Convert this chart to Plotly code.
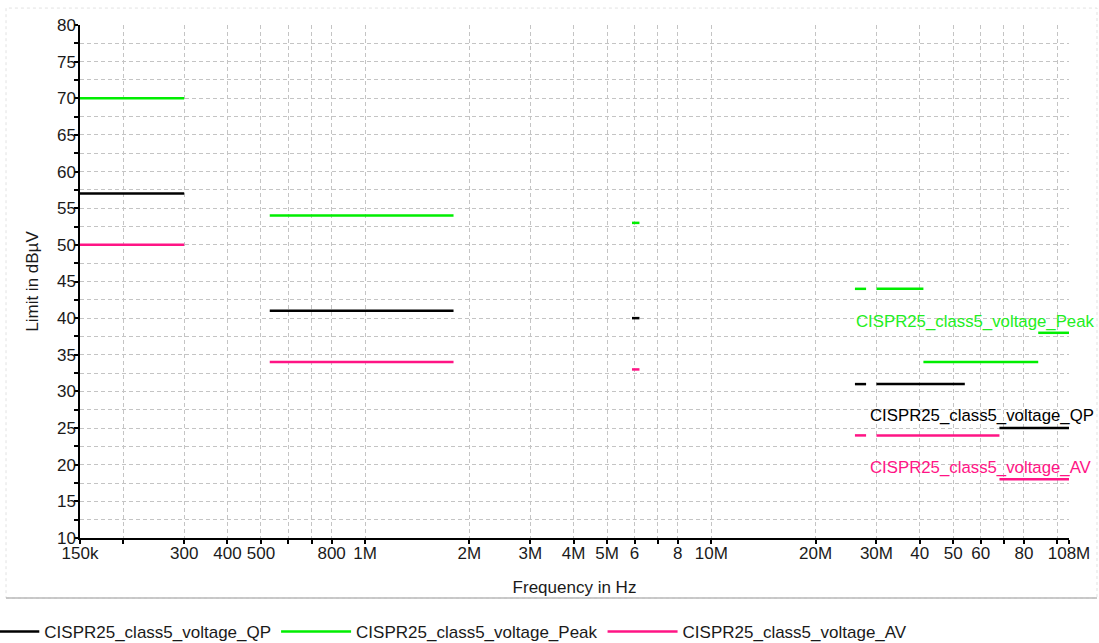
import plotly.graph_objects as go
import math

# ---- data (frequency in MHz, level in dBµV) ----
qp_start = [0.15, 0.53, 5.9, 26, 30, 68]
qp_stop = [0.30, 1.8, 6.2, 28, 54, 108]
qp_level = [57, 41, 40, 31, 31, 25]

peak_start = [0.15, 0.53, 5.9, 26, 30, 41, 88]
peak_stop = [0.30, 1.8, 6.2, 28, 41, 88, 108]
peak_level = [70, 54, 53, 44, 44, 34, 38]

av_start = [0.15, 0.53, 5.9, 26, 30, 68]
av_stop = [0.30, 1.8, 6.2, 28, 68, 108]
av_level = [50, 34, 33, 24, 24, 18]

x_tick_mhz = [0.15, 0.2, 0.3, 0.4, 0.5, 0.6, 0.7, 0.8, 1, 2, 3, 4, 5, 6, 7, 8,
              10, 20, 30, 40, 50, 60, 70, 80, 100, 108]
x_tick_text = ["150k", "", "300", "400", "500", "", "", "800", "1M", "2M", "3M", "4M",
               "5M", "6", "", "8", "10M", "20M", "30M", "40", "50", "60", "", "80", "", "108M"]

y_tick_vals = [10 + 2.5 * i for i in range(29)]
y_tick_text = [str(int(v)) if v % 5 == 0 else "" for v in y_tick_vals]

series_names = ["CISPR25_class5_voltage_QP", "CISPR25_class5_voltage_Peak", "CISPR25_class5_voltage_AV"]
series_colors = ["#000000", "#00ee00", "#ff1485"]


def seg_xy(starts, stops, levels):
    xs, ys = [], []
    for a, b, v in zip(starts, stops, levels):
        xs += [a * 1e6, b * 1e6, None]
        ys += [v, v, None]
    return xs, ys


fig = go.Figure()
for (st, sp, lv), name, col in zip(
        [(qp_start, qp_stop, qp_level), (peak_start, peak_stop, peak_level), (av_start, av_stop, av_level)],
        series_names, series_colors):
    xs, ys = seg_xy(st, sp, lv)
    fig.add_trace(go.Scatter(x=xs, y=ys, mode="lines", name=name,
                             line=dict(color=col, width=2.5), connectgaps=False))

font = "Liberation Sans, Arial, sans-serif"
txt = "#1a1a1a"
grid = dict(showgrid=True, gridcolor="#c4c4c4", griddash="4px,3px", gridwidth=1)

fig.update_xaxes(type="log", range=[math.log10(150e3), math.log10(108e6)],
                 tickmode="array", tickvals=[v * 1e6 for v in x_tick_mhz], ticktext=x_tick_text,
                 showline=True, linecolor="black", linewidth=1.5,
                 ticks="outside", ticklen=4, tickcolor="black", tickwidth=1.5,
                 ticklabelstandoff=-5,
                 tickfont=dict(size=17, color=txt, family=font),
                 title=dict(text="Frequency in Hz", font=dict(size=17, color=txt, family=font), standoff=19),
                 zeroline=False, automargin=False, **grid)
fig.update_yaxes(range=[10, 80], tickmode="array", tickvals=y_tick_vals, ticktext=y_tick_text,
                 showline=True, linecolor="black", linewidth=1.5,
                 ticks="outside", ticklen=4, tickcolor="black", tickwidth=1.5,
                 ticklabelstandoff=-5,
                 tickfont=dict(size=17, color=txt, family=font),
                 title=dict(text="Limit in dBµV", font=dict(size=17, color=txt, family=font), standoff=14),
                 zeroline=False, automargin=False, **grid)

# inline labels
ann_size = 16.8
fig.add_annotation(x=0.7826, xref="paper", y=39.5, yref="y", text="CISPR25_class5_voltage_Peak",
                   showarrow=False, xanchor="left", yanchor="middle",
                   font=dict(size=ann_size, color="#22ee22", family=font))
fig.add_annotation(x=0.7967, xref="paper", y=26.7, yref="y", text="CISPR25_class5_voltage_QP",
                   showarrow=False, xanchor="left", yanchor="middle",
                   font=dict(size=ann_size, color="#000000", family=font))
fig.add_annotation(x=0.7967, xref="paper", y=19.6, yref="y", text="CISPR25_class5_voltage_AV",
                   showarrow=False, xanchor="left", yanchor="middle",
                   font=dict(size=ann_size, color="#ff1485", family=font))

# outer panel frame
fig.add_shape(type="rect", xref="paper", yref="paper", x0=-0.0748, x1=1.0283, y0=-0.117, y1=1.033,
              line=dict(color="#e2e2e2", width=1, dash="dot"), layer="below")
fig.add_shape(type="line", xref="paper", yref="paper", x0=-0.0748, x1=1.0283, y0=-0.117, y1=-0.117,
              line=dict(color="#b8b8b8", width=1.5))

fig.update_layout(
    width=1099, height=643,
    margin=dict(l=80, r=30, t=25, b=105, autoexpand=False),
    paper_bgcolor="white", plot_bgcolor="white",
    font=dict(family=font, size=17, color=txt),
    legend=dict(orientation="h", xref="paper", yref="paper",
                x=-0.117, xanchor="left", y=-0.183, yanchor="middle",
                font=dict(size=17, color=txt, family=font), itemwidth=70,
                bgcolor="rgba(0,0,0,0)"),
    showlegend=True,
)

fig.write_html("out.html", config={"displayModeBar": False},
               post_script="document.body.style.margin='0';document.body.style.overflow='hidden';")
